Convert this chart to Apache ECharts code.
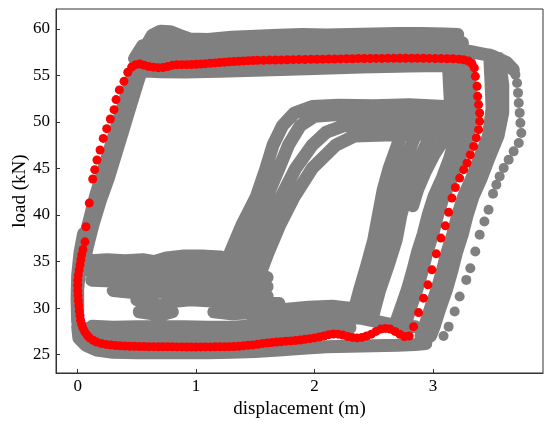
<!DOCTYPE html>
<html>
<head>
<meta charset="utf-8">
<script src="https://cdn.jsdelivr.net/npm/echarts@6/dist/echarts.min.js"></script>
<style>
  html, body { margin: 0; padding: 0; background: #fff; }
  #main { width: 550px; height: 425px; }
</style>
</head>
<body>
<div id="main"></div>
<script>
// tick labels
var xTicks = [0, 1, 2, 3];
var yTicks = [25, 30, 35, 40, 45, 50, 55, 60];

// red cycle (displacement m, load kN)
var redLoading = [[0.062,37.12],[0.07,38.74],[0.098,41.28],[0.127,43.87],[0.144,44.87],[0.163,45.91],[0.189,46.99],[0.216,48.23],[0.245,49.28],[0.276,50.32],[0.307,51.32],[0.324,52.40],[0.352,53.44],[0.391,54.36],[0.423,55.33],[0.456,55.9],[0.49,56.15],[0.525,56.22]];
var redTop = [[0.56,56.1],[0.60,55.95],[0.64,55.88],[0.68,55.83],[0.72,55.85],[0.76,55.95],[0.80,56.08],[0.84,56.14],[0.88,56.15],[0.92,56.15],[0.96,56.17],[1.00,56.2],[1.04,56.22],[1.08,56.26],[1.12,56.3],[1.16,56.34],[1.20,56.38],[1.24,56.42],[1.28,56.46],[1.32,56.49],[1.36,56.52],[1.40,56.55],[1.44,56.58],[1.48,56.6],[1.52,56.62],[1.57,56.63],[1.62,56.64],[1.67,56.65],[1.72,56.66],[1.77,56.68],[1.82,56.69],[1.87,56.7],[1.92,56.71],[1.97,56.72],[2.02,56.73],[2.07,56.74],[2.12,56.75],[2.17,56.76],[2.22,56.77],[2.27,56.78],[2.32,56.79],[2.37,56.8],[2.42,56.8],[2.47,56.81],[2.52,56.82],[2.57,56.82],[2.62,56.83],[2.67,56.83],[2.72,56.84],[2.77,56.84],[2.82,56.84],[2.87,56.83],[2.92,56.83],[2.97,56.82],[3.02,56.81],[3.07,56.8],[3.12,56.79],[3.17,56.78],[3.22,56.74],[3.26,56.68],[3.30,56.55],[3.33,56.25],[3.35,55.8]];
var redUnloading = [[3.359,54.9],[3.373,53.83],[3.378,52.75],[3.386,51.86],[3.395,50.96],[3.395,50.06],[3.386,49.17],[3.367,48.28],[3.344,47.37],[3.316,46.48],[3.288,45.59],[3.26,44.87],[3.226,43.97],[3.19,42.96],[3.161,41.82],[3.133,40.3],[3.105,38.84],[3.068,37.52],[3.029,35.83],[2.992,34.11],[2.958,32.50],[2.921,31.07],[2.879,29.52],[2.837,28.01]];
var redBottom = [[2.80,27.0],[2.76,26.95],[2.72,27.2],[2.68,27.5],[2.64,27.75],[2.60,27.82],[2.56,27.75],[2.52,27.5],[2.48,27.2],[2.44,27.0],[2.40,26.85],[2.36,26.8],[2.32,26.85],[2.28,26.95],[2.24,27.1],[2.20,27.2],[2.16,27.22],[2.12,27.15],[2.08,27.0],[2.04,26.9],[2.00,26.8],[1.96,26.72],[1.92,26.65],[1.88,26.58],[1.84,26.52],[1.80,26.48],[1.76,26.45],[1.72,26.4],[1.68,26.35],[1.64,26.3],[1.60,26.25],[1.56,26.2],[1.52,26.12],[1.48,26.05],[1.44,26.0],[1.40,25.95],[1.36,25.9],[1.32,25.88],[1.28,25.86],[1.24,25.85],[1.20,25.84],[1.16,25.84],[1.12,25.83],[1.08,25.83],[1.04,25.83],[1.00,25.82],[0.96,25.82],[0.92,25.82],[0.88,25.83],[0.84,25.83],[0.80,25.84],[0.76,25.84],[0.72,25.85],[0.68,25.85],[0.64,25.86],[0.60,25.86],[0.56,25.87],[0.52,25.88],[0.48,25.89],[0.44,25.9],[0.40,25.92],[0.36,25.95],[0.32,25.98],[0.28,26.03],[0.24,26.1],[0.20,26.2],[0.16,26.35],[0.13,26.55],[0.10,26.8],[0.08,27.1],[0.06,27.45],[0.045,27.85],[0.034,28.25],[0.025,28.7],[0.019,29.2],[0.014,29.7],[0.01,30.25],[0.006,30.8],[0.003,31.35],[0.001,31.9],[0.0,32.45],[0.001,33.0],[0.005,33.55],[0.012,34.1],[0.02,34.65],[0.027,35.2],[0.034,35.75],[0.045,36.3]];

// grey cycles, read as traces through the dense bands
var grayTop1 = [[0.57,58.0],[0.63,59.3],[0.70,59.75],[0.78,59.7],[0.86,59.3],[0.95,58.9],[1.1,58.85],[1.3,59.1],[1.5,59.2],[1.7,59.3],[1.9,59.4],[2.1,59.35],[2.3,59.4],[2.5,59.45],[2.7,59.5],[2.9,59.5],[3.1,59.45],[3.21,59.4]];
var grayTop2 = [[0.48,56.8],[0.55,58.2],[0.7,58.5],[0.9,58.2],[1.2,58.2],[1.6,58.4],[2.0,58.5],[2.4,58.5],[2.8,58.6],[3.25,58.5]];
var grayTop3 = [[0.6,57.2],[1.0,57.3],[1.5,57.45],[2.0,57.55],[2.5,57.6],[3.0,57.65],[3.3,57.6],[3.5,57.1],[3.62,56.4],[3.68,55.6]];
var grayTop4 = [[0.5,56.3],[1.0,56.4],[1.5,56.7],[2.0,56.85],[2.5,56.9],[3.0,56.95],[3.3,56.8]];
var grayTop5 = [[0.53,55.5],[0.7,55.4],[0.9,55.35],[1.2,55.45],[1.5,55.55],[2.0,55.75],[2.4,55.9],[2.8,56.0],[3.1,56.05],[3.3,56.1]];
var grayLeft0 = [[0.0,28.5],[-0.005,31],[0.0,33.5],[0.02,36],[0.05,38]];
var grayLeft1 = [[0.0,29.0],[0.0,32.0],[0.02,34.5],[0.05,37.0],[0.1,39.5],[0.15,42.0],[0.21,44.5],[0.27,47.0],[0.33,49.5],[0.39,52.0],[0.45,54.5],[0.51,56.5]];
var grayLeft2 = [[0.04,34.0],[0.08,36.5],[0.13,39.0],[0.19,41.5],[0.26,44.0],[0.32,46.5],[0.38,49.0],[0.44,51.5],[0.5,54.0],[0.55,56.0]];
var grayBottom1 = [[2.94,26.2],[2.85,26.1],[2.7,26.0],[2.5,25.95],[2.3,25.9],[2.1,25.85],[1.9,25.7],[1.7,25.5],[1.5,25.35],[1.3,25.25],[1.1,25.2],[0.9,25.2],[0.7,25.2],[0.5,25.2],[0.3,25.25],[0.16,25.5],[0.07,26.0],[0.01,26.8],[0.0,28.0]];
var grayBottom2 = [[2.3,27.9],[2.1,27.8],[1.9,27.5],[1.7,27.2],[1.5,26.9],[1.3,26.85],[1.1,26.85],[0.9,26.9],[0.7,26.9],[0.5,26.9],[0.3,27.0],[0.15,27.2],[0.08,27.8]];
var grayBottom3 = [[2.85,28.0],[2.7,28.1],[2.55,28.5],[2.4,28.9],[2.3,29.0],[2.1,29.0],[1.9,28.8],[1.7,28.4],[1.5,28.1],[1.3,27.95],[1.1,27.95],[0.9,28.0],[0.7,28.0],[0.5,28.0],[0.3,27.95],[0.12,28.05]];
var grayBottom4 = [[1.45,29.4],[1.7,29.8],[1.95,30.1],[2.15,30.2],[2.35,29.9],[2.5,29.5]];
var grayBlob1 = [[0.11,35.1],[0.25,35.2],[0.4,35.1],[0.55,35.2],[0.65,35.0],[0.75,35.4],[0.9,35.6],[1.05,35.6],[1.2,35.5],[1.3,35.2],[1.4,34.7]];
var grayBlob2 = [[0.08,34.1],[0.25,34.2],[0.45,34.2],[0.65,34.1],[0.85,34.4],[1.05,34.5],[1.25,34.3],[1.45,33.9],[1.6,33.3]];
var grayBlob3 = [[0.12,33.0],[0.3,32.9],[0.45,32.8],[0.6,32.9],[0.8,33.2],[1.0,33.3],[1.2,33.1],[1.4,32.8],[1.6,32.3]];
var grayBlob4 = [[0.3,31.9],[0.45,31.7],[0.6,31.6],[0.8,32.0],[1.0,32.1],[1.2,32.0],[1.4,31.7],[1.6,31.3]];
var grayBlob5 = [[0.5,30.9],[0.6,30.6],[0.7,30.3],[0.8,30.7],[0.95,30.9],[1.1,30.8],[1.3,30.7],[1.5,30.6],[1.7,30.5]];
var grayBlob6 = [[0.52,29.6],[0.62,29.4],[0.74,29.4],[0.8,29.6]];
var grayBlob7 = [[1.15,29.6],[1.3,29.4],[1.45,29.5],[1.6,29.6]];
var grayDiag1 = [[1.23,33.0],[1.29,36.0],[1.39,39.0],[1.51,42.0],[1.59,45.0],[1.65,47.5],[1.73,49.6],[1.83,50.95],[1.98,51.65],[2.2,51.8],[2.5,51.75],[2.8,51.85],[3.1,51.65]];
var grayDiag2 = [[1.32,33.0],[1.39,36.0],[1.48,39.0],[1.60,42.0],[1.70,45.0],[1.78,47.5],[1.88,49.6],[2.0,50.6],[2.2,50.8],[2.5,50.8],[2.8,50.9],[3.1,50.8]];
var grayDiag3 = [[1.42,33.0],[1.50,36.0],[1.60,39.0],[1.72,42.0],[1.84,45.0],[1.98,47.5],[2.1,48.9],[2.25,49.6],[2.5,49.7],[2.8,49.75],[3.1,49.7]];
var grayDiag4 = [[1.52,33.0],[1.61,36.0],[1.71,39.0],[1.83,42.0],[1.98,45.0],[2.18,47.5],[2.34,48.5],[2.6,48.6],[2.9,48.7],[3.1,48.8]];
var grayMid1 = [[2.72,48.2],[2.63,45],[2.58,42.7],[2.54,40],[2.5,37.3],[2.44,34.5],[2.38,31.9],[2.34,30],[2.31,29]];
var grayMid2 = [[2.84,48.2],[2.74,45],[2.68,42.7],[2.64,40],[2.6,37.3],[2.53,34.5],[2.47,31.9],[2.43,30]];
var grayMid3 = [[2.97,48.3],[2.85,45],[2.79,42.7],[2.73,40],[2.69,37.3],[2.62,34.5],[2.55,31.9],[2.51,30],[2.49,29]];
var grayMid4 = [[3.11,48.5],[3.01,46.5],[2.93,44.5],[2.87,42.7],[2.83,41]];
var grayCol1 = [[3.13,56.5],[3.14,54],[3.15,51.5],[3.14,49.0]];
var grayRight1 = [[3.22,57.5],[3.22,55],[3.23,52.5],[3.22,50],[3.18,47.8],[3.14,46],[3.08,44],[3.01,42],[2.96,40],[2.92,38],[2.87,36],[2.83,34],[2.785,32],[2.73,30],[2.68,28.2]];
var grayRight2 = [[3.3,57.5],[3.31,55],[3.32,52.5],[3.32,50],[3.29,48],[3.22,46],[3.16,44],[3.09,42],[3.04,40],[3.0,38],[2.95,36],[2.91,34],[2.865,32],[2.81,30],[2.76,28]];
var grayRight3 = [[3.48,57.2],[3.49,54.5],[3.5,51.5],[3.47,48.5],[3.39,46],[3.33,44],[3.26,42],[3.21,40],[3.17,38],[3.12,36],[3.08,34],[3.035,32],[2.98,30],[2.93,28],[2.9,27]];
var grayRight4 = [[3.56,56.8],[3.59,54],[3.59,51],[3.55,48.5],[3.47,46],[3.41,44],[3.34,42],[3.29,40],[3.25,38],[3.2,36],[3.16,34],[3.115,32],[3.06,30],[3.01,28],[2.98,27.0]];
var grayOuterDots = [[3.66,56.0],[3.697,55.08],[3.711,54.19],[3.719,53.12],[3.725,52.04],[3.733,50.97],[3.739,49.89],[3.747,48.81],[3.725,47.74],[3.682,46.84],[3.64,45.94],[3.598,45.05],[3.564,44.15],[3.536,43.25],[3.508,42.29],[3.47,40.56],[3.435,39.31],[3.395,37.88],[3.358,36.08],[3.316,34.29],[3.282,33.03],[3.226,31.24],[3.184,29.63],[3.133,28.01],[3.09,27.0]];

var grayTraces = [grayTop1, grayTop2, grayTop3, grayTop4, grayTop5, grayLeft0, grayLeft1, grayLeft2,
    grayBottom1, grayBottom2, grayBottom3, grayBottom4, grayBlob1, grayBlob2, grayBlob3, grayBlob4, grayBlob5, grayBlob6, grayBlob7,
    grayDiag1, grayDiag2, grayDiag3, grayDiag4, grayMid1, grayMid2, grayMid3, grayMid4,
    grayCol1, grayRight1, grayRight2, grayRight3, grayRight4];

var GRAY = '#808080';
var FONT = 'Liberation Serif';

// all grey traces go into one broken polyline
var grayData = [];
grayTraces.forEach(function (d, i) {
    if (i > 0) grayData.push(['-', '-']);
    grayData = grayData.concat(d);
});

var myChart = echarts.init(document.getElementById('main'), null, {renderer: 'canvas'});

// grey band drawn twice: the thinner copy on top hides the seams where strokes touch
function grayBand(width, z) {
    return {
        type: 'line',
        data: grayData,
        showSymbol: false,
        connectNulls: false,
        silent: true,
        lineStyle: {color: GRAY, width: width, cap: 'round', join: 'round', opacity: 1},
        emphasis: {disabled: true},
        z: z
    };
}

var option = {
    animation: false,
    grid: {left: 56, right: 7, top: 9, bottom: 52, show: true, borderColor: '#333', borderWidth: 1},
    xAxis: {
        type: 'value',
        min: -0.183,
        max: 3.93,
        name: 'displacement (m)',
        nameLocation: 'middle',
        nameGap: 27,
        nameTextStyle: {fontFamily: FONT, fontSize: 19, color: '#000'},
        axisLine: {show: true, onZero: false, lineStyle: {color: '#333'}},
        axisTick: {show: true, inside: true, length: 4, customValues: xTicks, lineStyle: {color: '#333'}},
        axisLabel: {customValues: xTicks, fontFamily: FONT, fontSize: 17, color: '#000', margin: 5},
        splitLine: {show: false}
    },
    yAxis: {
        type: 'value',
        min: 23.03,
        max: 62.13,
        name: 'load (kN)',
        nameLocation: 'middle',
        nameGap: 26,
        nameMoveOverlap: false,
        nameTextStyle: {fontFamily: FONT, fontSize: 19, color: '#000'},
        axisLine: {show: true, onZero: false, lineStyle: {color: '#333'}},
        axisTick: {show: true, inside: true, length: 4, customValues: yTicks, lineStyle: {color: '#333'}},
        axisLabel: {customValues: yTicks, fontFamily: FONT, fontSize: 17, color: '#000', margin: 6},
        splitLine: {show: false}
    },
    series: [
        grayBand(13, 2),
        grayBand(10, 3),
        {
            type: 'scatter',
            data: grayOuterDots,
            symbolSize: 10,
            itemStyle: {color: GRAY, borderWidth: 0, opacity: 1},
            z: 3
        },
        {
            type: 'scatter',
            data: redLoading.concat(redTop, redUnloading, redBottom),
            symbolSize: 9,
            itemStyle: {color: '#ff0000', borderWidth: 0, opacity: 1},
            z: 5
        }
    ]
};
myChart.setOption(option);
</script>
</body>
</html>
